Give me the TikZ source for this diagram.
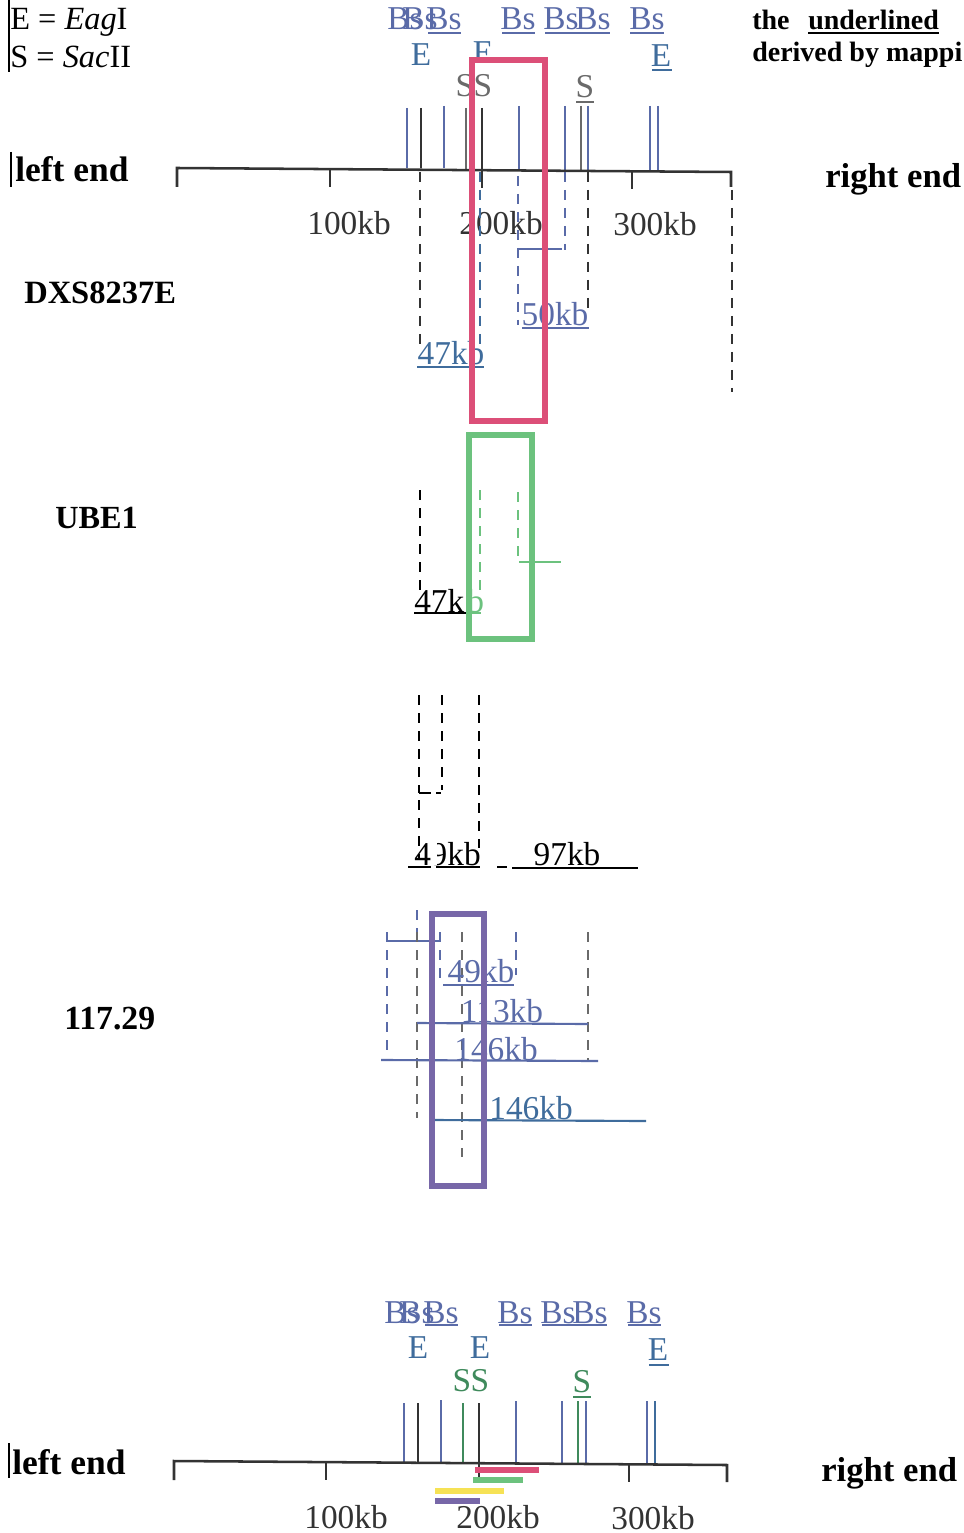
\documentclass[tikz,border=0pt]{standalone}
\usepackage{fontspec}
\setmainfont{Liberation Serif}
\definecolor{bsblue}{HTML}{5A6BA8}
\definecolor{eblue}{HTML}{3F6C9C}
\definecolor{sgray}{HTML}{6A6A6A}
\definecolor{sgreen}{HTML}{3F8A5C}
\definecolor{axisgray}{HTML}{333333}
\definecolor{boxpink}{HTML}{DC4F78}
\definecolor{boxgreen}{HTML}{6CC27E}
\definecolor{boxpurple}{HTML}{7767A8}
\definecolor{baryellow}{HTML}{F6E255}

\begin{document}
\begin{tikzpicture}[x=0.75pt,y=-0.75pt,
    lbl/.style={inner sep=0pt,anchor=base,font=\fontsize{25}{25}\selectfont},
    head/.style={inner sep=0pt,anchor=base west,font=\fontsize{26}{26}\selectfont\bfseries},
    note/.style={head,font=\fontsize{21}{21}\selectfont\bfseries},
    axisline/.style={axisgray,line width=1.9pt},
    site/.style={line width=2pt},
    under/.style={line width=1.6pt},
    cut/.style={line width=2pt,dash pattern=on 7.5pt off 6pt},
    fragbox/.style={line width=4.2pt},
    fragbar/.style={line width=3.8pt}]
    \useasboundingbox (0,0) rectangle (963,1533);

    % Key
    \draw[line width=1.2pt] (9,0) -- (9,72);
    \node[lbl,anchor=base west,font=\fontsize{24.3}{25}\selectfont] (keyE) at (10,30) {E = \textit{Eag}I};
    \node[lbl,anchor=base west,font=\fontsize{24.3}{25}\selectfont] (keyS) at (10,68) {S = \textit{Sac}II};
    \node[note] (noteA) at (752,30) {the};
    \node[note] (noteB) at (808,30) {underlined};
    \node[note] (noteC) at (752,62) {derived by mappi};
    \draw[under] (808,33) -- (939,33);

    % Top map, labels
    \node[lbl,bsblue] (bs1) at (405,30) {Bs};
    \node[lbl,bsblue] (bs2) at (420,30) {Bs};
    \node[lbl,bsblue] (bs3) at (444,30) {Bs};
    \node[lbl,bsblue] (bs4) at (518,30) {Bs};
    \node[lbl,bsblue] (bs5) at (561,30) {Bs};
    \node[lbl,bsblue] (bs6) at (593,30) {Bs};
    \node[lbl,bsblue] (bs7) at (647,30) {Bs};
    \node[lbl,eblue] (e1) at (421,66) {E};
    \node[lbl,eblue] (e2) at (483,64) {E};
    \node[lbl,eblue] (e3) at (661,67) {E};
    \node[lbl,sgray] (s1) at (465,97) {S};
    \node[lbl,sgray] (s2) at (483,97) {S};
    \node[lbl,sgray] (s3) at (585,98) {S};
    \draw[under,bsblue] (428,33) -- (461,33);
    \draw[under,bsblue] (502,33) -- (535,33);
    \draw[under,bsblue] (545,33) -- (610,33);
    \draw[under,bsblue] (630,33) -- (664,33);
    \draw[under,eblue] (652,70) -- (672,70);
    \draw[under,sgray] (576,102) -- (594,102);

    % Top map, sites
    \draw[site,bsblue] (407,108) -- (407,168);
    \draw[site,axisgray] (421,108) -- (421,168);
    \draw[site,bsblue] (444,106) -- (444,168);
    \draw[site,sgray] (466,108) -- (466,169);
    \draw[site,axisgray] (482,108) -- (482,169);
    \draw[site,bsblue] (519,106) -- (519,170);
    \draw[site,bsblue] (565,106) -- (565,170);
    \draw[site,sgray] (581,106) -- (581,171);
    \draw[site,bsblue] (588,106) -- (588,171);
    \draw[site,bsblue] (650,106) -- (650,171);
    \draw[site,bsblue] (658,106) -- (658,171);

    % Top map, axis
    \draw[axisline] (177,187) -- (177,168) -- (731,172) -- (731,187);
    \draw[axisline] (330,169) -- (330,187);
    \draw[axisline] (482,170) -- (482,188);
    \draw[axisline] (632,171) -- (632,189);
    \node[lbl,axisgray] (kbA) at (349,235) {100kb};
    \node[lbl,axisgray] (kbB) at (501,235) {200kb};
    \node[lbl,axisgray] (kbC) at (655,236) {300kb};
    \draw[line width=1.2pt] (11,152) -- (11,187);
    \node[head,font=\fontsize{26.6}{26}\selectfont\bfseries] (leftA) at (15,182) {left end};
    \node[head] (rightA) at (825,188) {right end};

    % DXS8237E
    \node[head,font=\fontsize{24.4}{25}\selectfont\bfseries] (dxs) at (24,304) {DXS8237E};
    \draw[cut,axisgray] (420,172) -- (420,352);
    \draw[cut,eblue] (480,172) -- (480,345);
    \draw[cut,bsblue] (518,176) -- (518,325);
    \draw[cut,bsblue] (565,172) -- (565,250);
    \draw[cut,axisgray] (588,172) -- (588,316);
    \draw[cut,axisgray] (732,190) -- (732,392);
    \draw[under,bsblue] (518,249) -- (562,249);
    \node[lbl,bsblue] (kb50) at (555,326) {50kb};
    \draw[under,bsblue] (522,328) -- (589,328);
    \node[lbl,eblue] (kb47) at (451,365) {47kb};
    \draw[under,eblue] (417,367) -- (484,367);
    \draw[fragbox,boxpink] (472,60) rectangle (545,421);

    % UBE1
    \node[head,font=\fontsize{24.2}{25}\selectfont\bfseries] (ube) at (55,528) {UBE1};
    \draw[cut,black] (420,490) -- (420,592);
    \draw[cut,boxgreen] (480,490) -- (480,595);
    \draw[cut,boxgreen] (518,492) -- (518,556);
    \draw[under,boxgreen] (519,562) -- (561,562);
    \node[lbl,black,anchor=base west] (kb47k) at (414,612) {47k};
    \node[lbl,boxgreen,anchor=base west] (kb47b) at (467,612) {b};
    \draw[under,black] (414,613) -- (467,613);
    \draw[under,boxgreen] (467,613) -- (481,613);
    \draw[fragbox,boxgreen] (469,435) rectangle (532,639);

    % Middle fragments
    \node[lbl,black,anchor=base east] (kb9) at (481,865) {9kb};
    \node[lbl,black,anchor=base west,fill=white] (kb4) at (414,865) {4\kern4.5pt};
    \node[lbl,black] (kb97) at (567,865) {97kb};
    \draw[cut,black] (419,695) -- (419,793);
    \draw[under,black,line width=2pt] (419,793) -- (431,793);
    \draw[under,black,line width=2pt] (436,793) -- (441,793);
    \draw[cut,black] (442,695) -- (442,790);
    \draw[cut,black] (419,800) -- (419,858);
    \draw[cut,black] (479,695) -- (479,848);
    \draw[under,black] (408,867) -- (431,867);
    \draw[under,black] (436,867) -- (480,867);
    \draw[under,black] (497,867) -- (507,867);
    \draw[under,black] (512,868) -- (638,868);

    % 117.29
    \node[head,font=\fontsize{25.3}{25}\selectfont\bfseries] (clone) at (64,1029) {117.29};
    \draw[cut,bsblue] (387,932) -- (387,1050);
    \draw[under,bsblue] (387,941) -- (440,941);
    \draw[cut,bsblue] (417,910) -- (417,932);
    \draw[cut,sgray] (417,932) -- (417,1118);
    \draw[cut,bsblue] (440,932) -- (440,978);
    \draw[cut,sgray] (462,932) -- (462,1157);
    \draw[cut,bsblue] (516,932) -- (516,975);
    \draw[cut,sgray] (588,932) -- (588,1060);
    \node[lbl,bsblue] (kb49) at (481,982) {49kb};
    \draw[under,bsblue] (443,985) -- (514,985);
    \node[lbl,bsblue] (kb113) at (502,1022) {113kb};
    \draw[under,bsblue] (417,1023) -- (588,1024);
    \node[lbl,bsblue] (kb146a) at (496,1060) {146kb};
    \draw[under,bsblue] (381,1060) -- (598,1061);
    \node[lbl,eblue] (kb146b) at (531,1119) {146kb};
    \draw[under,eblue] (432,1120) -- (646,1121);
    \draw[fragbox,boxpurple] (432,914) rectangle (484,1186);

    % Bottom map, labels
    \node[lbl,bsblue] (bs8) at (402,1323) {Bs};
    \node[lbl,bsblue] (bs9) at (417,1323) {Bs};
    \node[lbl,bsblue] (bs10) at (441,1323) {Bs};
    \node[lbl,bsblue] (bs11) at (515,1323) {Bs};
    \node[lbl,bsblue] (bs12) at (558,1323) {Bs};
    \node[lbl,bsblue] (bs13) at (590,1323) {Bs};
    \node[lbl,bsblue] (bs14) at (644,1323) {Bs};
    \node[lbl,eblue] (e4) at (418,1358) {E};
    \node[lbl,eblue] (e5) at (480,1358) {E};
    \node[lbl,eblue] (e6) at (658,1360) {E};
    \node[lbl,sgreen] (s4) at (462,1391) {S};
    \node[lbl,sgreen] (s5) at (480,1391) {S};
    \node[lbl,sgreen] (s6) at (582,1392) {S};
    \draw[under,bsblue] (425,1325) -- (458,1325);
    \draw[under,bsblue] (499,1325) -- (532,1325);
    \draw[under,bsblue] (542,1325) -- (607,1325);
    \draw[under,bsblue] (628,1325) -- (661,1325);
    \draw[under,eblue] (649,1365) -- (669,1365);
    \draw[under,sgreen] (573,1397) -- (591,1397);

    % Bottom map, sites
    \draw[site,bsblue] (404,1403) -- (404,1462);
    \draw[site,axisgray] (418,1403) -- (418,1462);
    \draw[site,bsblue] (441,1400) -- (441,1462);
    \draw[site,sgreen] (463,1403) -- (463,1462);
    \draw[site,axisgray] (479,1403) -- (479,1462);
    \draw[site,bsblue] (516,1401) -- (516,1463);
    \draw[site,bsblue] (562,1401) -- (562,1463);
    \draw[site,sgreen] (578,1401) -- (578,1464);
    \draw[site,bsblue] (586,1401) -- (586,1464);
    \draw[site,bsblue] (647,1401) -- (647,1464);
    \draw[site,eblue] (655,1401) -- (655,1464);

    % Bottom map, axis
    \draw[axisline] (174,1480) -- (174,1461) -- (727,1465) -- (727,1482);
    \draw[axisline] (326,1462) -- (326,1480);
    \draw[axisline] (479,1463) -- (479,1480);
    \draw[axisline] (629,1464) -- (629,1482);
    \node[lbl,axisgray] (kbD) at (346,1528) {100kb};
    \node[lbl,axisgray] (kbE) at (498,1528) {200kb};
    \node[lbl,axisgray] (kbF) at (653,1529) {300kb};
    \draw[line width=1.2pt] (9,1443) -- (9,1478);
    \node[head,font=\fontsize{26.6}{26}\selectfont\bfseries] (leftB) at (12,1474) {left end};
    \node[head] (rightB) at (821,1481) {right end};

    % Bottom map, fragments
    \draw[fragbar,boxpink] (475,1470) -- (539,1470);
    \draw[fragbar,boxgreen] (473,1480) -- (523,1480);
    \draw[fragbar,baryellow] (435,1491) -- (504,1491);
    \draw[fragbar,boxpurple] (435,1501) -- (480,1501);
\end{tikzpicture}
\end{document}
